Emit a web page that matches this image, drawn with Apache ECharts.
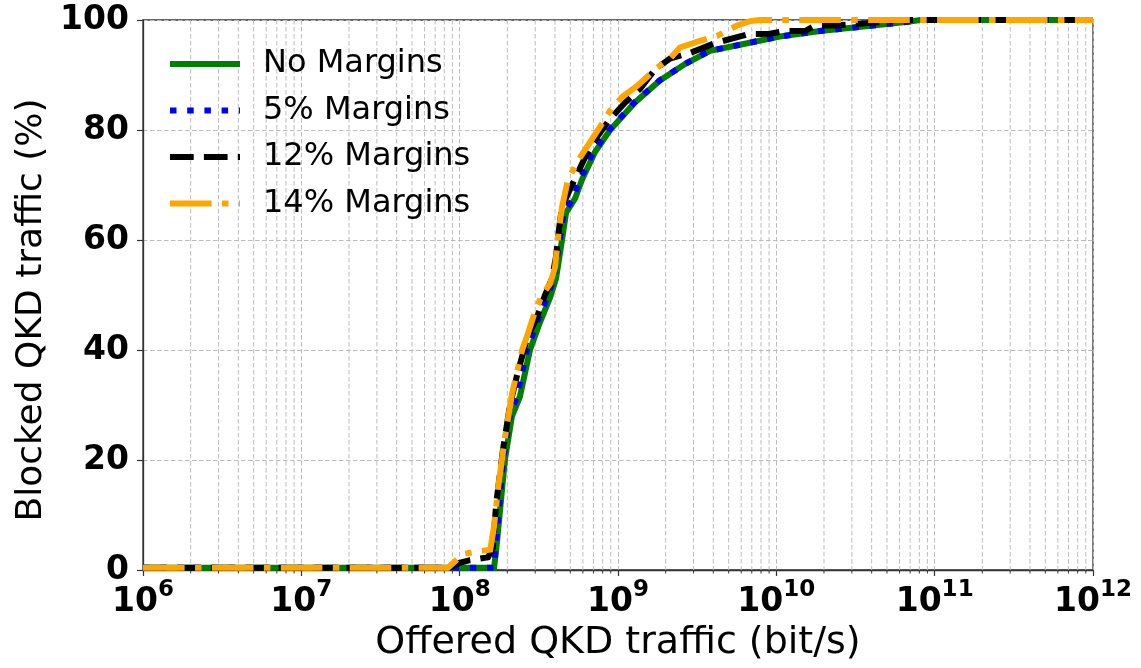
<!DOCTYPE html>
<html>
<head>
<meta charset="utf-8">
<script src="https://cdn.jsdelivr.net/npm/echarts@6/dist/echarts.min.js"></script>
<style>
  html, body { margin: 0; padding: 0; background: #fff; }
  #chart { width: 1141px; height: 668px; }
</style>
</head>
<body>
<div id="chart"></div>
<script>
// Blocked QKD traffic (%) versus offered QKD traffic (bit/s), one curve per margin setting
const seriesNames = ['No Margins', '5% Margins', '12% Margins', '14% Margins'];

const noMargins = [
  [1e6, 0.4], [1.65e8, 0.4], [1.72e8, 5], [1.93e8, 20], [2.14e8, 28], [2.40e8, 31.5],
  [2.78e8, 40], [3.21e8, 45], [3.72e8, 49.5], [4.06e8, 53], [4.43e8, 60], [4.70e8, 65],
  [5.35e8, 67.5], [5.93e8, 71], [7.16e8, 76], [8.91e8, 80], [1.28e9, 85], [1.84e9, 89],
  [2.65e9, 92], [3.81e9, 94.4], [5.90e9, 95.5], [1.05e10, 97], [1.89e10, 98],
  [4.08e10, 99], [6.98e10, 99.7], [8.07e10, 100], [1e12, 100]
];

const margins5 = [
  [1e6, 0.4], [1.65e8, 0.4], [1.70e8, 5], [1.88e8, 20], [2.07e8, 28], [2.30e8, 31.5],
  [2.66e8, 40], [3.08e8, 45], [3.57e8, 49.5], [3.92e8, 53], [4.28e8, 60], [4.55e8, 65],
  [5.20e8, 67.5], [5.75e8, 71], [7.00e8, 76], [8.80e8, 80], [1.27e9, 85], [1.83e9, 89],
  [2.65e9, 92], [3.80e9, 94.4], [5.90e9, 95.5], [1.05e10, 97], [1.89e10, 98],
  [4.08e10, 99], [6.98e10, 99.7], [8.07e10, 100], [1e12, 100]
];

const margins12 = [
  [1e6, 0.4], [8.65e7, 0.4], [1.00e8, 1.3], [1.16e8, 1.8], [1.51e8, 2.3], [1.62e8, 4],
  [1.70e8, 12], [1.88e8, 22], [2.08e8, 30], [2.33e8, 36], [2.66e8, 42], [3.08e8, 46],
  [3.46e8, 50], [3.83e8, 53], [4.06e8, 57], [4.24e8, 62], [4.43e8, 66], [5.12e8, 70],
  [6.19e8, 75], [7.48e8, 79], [8.91e8, 82], [1.11e9, 85], [1.38e9, 87.5], [1.71e9, 91],
  [2.13e9, 93], [2.85e9, 94], [4.10e9, 95.8], [6.62e9, 97.4], [9.12e9, 97.5],
  [1.14e10, 98], [1.52e10, 98], [1.75e10, 99], [2.35e10, 99], [4.52e10, 99.6],
  [5.62e10, 100], [1e12, 100]
];

const margins14 = [
  [1e6, 0.4], [8.44e7, 0.4], [1.05e8, 2.9], [1.25e8, 3.3], [1.56e8, 3.7], [1.65e8, 8],
  [1.75e8, 15], [1.93e8, 24], [2.14e8, 32], [2.48e8, 40], [2.70e8, 43], [2.99e8, 47],
  [3.31e8, 50], [3.72e8, 52], [4.00e8, 55], [4.24e8, 62], [4.43e8, 66], [4.83e8, 71],
  [5.75e8, 75], [7.48e8, 80], [8.91e8, 83.5], [1.06e9, 86], [1.32e9, 88], [1.76e9, 91.3],
  [2.13e9, 93], [2.46e9, 95], [3.30e9, 96.2], [4.22e9, 97.1], [5.65e9, 99],
  [6.82e9, 99.8], [7.89e9, 100], [1e12, 100]
];

// Axis ranges and tick values
const xMin = 1e6, xMax = 1e12;
const yMin = 0, yMax = 100, yStep = 20;

// Minor (2..9 x 10^n) positions on the log axis, for the dashed minor grid and small ticks
const minorTickValues = [];
for (let e = 6; e < 12; e++) {
  for (let k = 2; k <= 9; k++) minorTickValues.push([k * Math.pow(10, e), 0]);
}

const FONT = 'DejaVu Sans';
const gridDash = [4.5, 2.5];
const gridColor = '#bcbcbc';
const spineColor = '#333333';

const chart = echarts.init(document.getElementById('chart'), null, { renderer: 'canvas' });

function lineSeries(name, data, color, dash, z) {
  return {
    name: name,
    type: 'line',
    data: data,
    symbol: 'none',
    z: z,
    lineStyle: { color: color, width: 6, type: dash, cap: 'butt', join: 'miter' },
    itemStyle: { color: color },
    emphasis: { disabled: true },
    animation: false
  };
}

chart.setOption({
  animation: false,
  backgroundColor: '#ffffff',
  grid: {
    left: 143, top: 20, width: 950, height: 550,
    show: true, borderColor: spineColor, borderWidth: 1.3, backgroundColor: 'transparent'
  },
  legend: {
    data: seriesNames,
    orient: 'vertical',
    left: 167, top: 44,
    padding: 0,
    itemWidth: 70, itemHeight: 14, itemGap: 6.5,
    selectedMode: false,
    itemStyle: { opacity: 0 },
    lineStyle: { width: 6 },
    textStyle: { fontFamily: FONT, fontSize: 32, color: '#000', lineHeight: 40, padding: [0, 0, 0, 18] }
  },
  xAxis: {
    type: 'log', logBase: 10, min: xMin, max: xMax, splitNumber: 6,
    name: 'Offered QKD traffic (bit/s)',
    nameLocation: 'middle', nameGap: 20,
    nameTextStyle: { fontFamily: FONT, fontSize: 38, color: '#000' },
    axisLine: { show: true, onZero: false, lineStyle: { color: spineColor, width: 1.3 } },
    axisTick: { show: true, inside: false, length: 6, lineStyle: { color: spineColor, width: 1.2 } },
    minorTick: { show: false },
    splitLine: { show: true, lineStyle: { color: gridColor, width: 1, type: gridDash } },
    axisLabel: {
      margin: 9,
      formatter: function (v) {
        const e = Math.round(Math.log10(v));
        return '{b|10}{s|' + e + '}';
      },
      rich: {
        b: { fontFamily: FONT, fontWeight: 'bold', fontSize: 33, color: '#000', padding: [7, 0, 0, 0] },
        s: { fontFamily: FONT, fontWeight: 'bold', fontSize: 23, color: '#000', verticalAlign: 'top' }
      }
    }
  },
  yAxis: {
    type: 'value', min: yMin, max: yMax, interval: yStep,
    name: 'Blocked QKD traffic (%)',
    nameLocation: 'middle', nameGap: 92,
    nameTextStyle: { fontFamily: FONT, fontSize: 36, color: '#000', padding: [0, 30, 0, 0] },
    axisLine: { show: true, lineStyle: { color: spineColor, width: 1.3 } },
    axisTick: { show: true, inside: false, length: 6, lineStyle: { color: spineColor, width: 1.2 } },
    splitLine: { show: true, lineStyle: { color: gridColor, width: 1, type: gridDash } },
    axisLabel: { margin: 14, fontFamily: FONT, fontWeight: 'bold', fontSize: 33, color: '#000' }
  },
  series: [
    {
      // dashed minor grid lines and short minor ticks under the x axis
      name: 'minor',
      type: 'custom',
      data: minorTickValues,
      clip: false,
      silent: true,
      z: 1,
      animation: false,
      renderItem: function (params, api) {
        const x = api.value(0);
        const top = api.coord([x, yMax]);
        const bot = api.coord([x, yMin]);
        return {
          type: 'group',
          children: [
            { type: 'line', shape: { x1: top[0], y1: top[1], x2: bot[0], y2: bot[1] },
              style: { stroke: gridColor, lineWidth: 1, lineDash: gridDash } },
            { type: 'line', shape: { x1: bot[0], y1: bot[1], x2: bot[0], y2: bot[1] + 3.5 },
              style: { stroke: spineColor, lineWidth: 1 } }
          ]
        };
      }
    },
    lineSeries(seriesNames[0], noMargins, '#008000', 'solid', 3),
    lineSeries(seriesNames[1], margins5, '#0000ff', [6.5, 10.7], 4),
    lineSeries(seriesNames[2], margins12, '#000000', [23.7, 10.2], 5),
    lineSeries(seriesNames[3], margins14, '#ffa500', [41.6, 10.4, 6.5, 10.4], 6)
  ]
});
</script>
</body>
</html>
